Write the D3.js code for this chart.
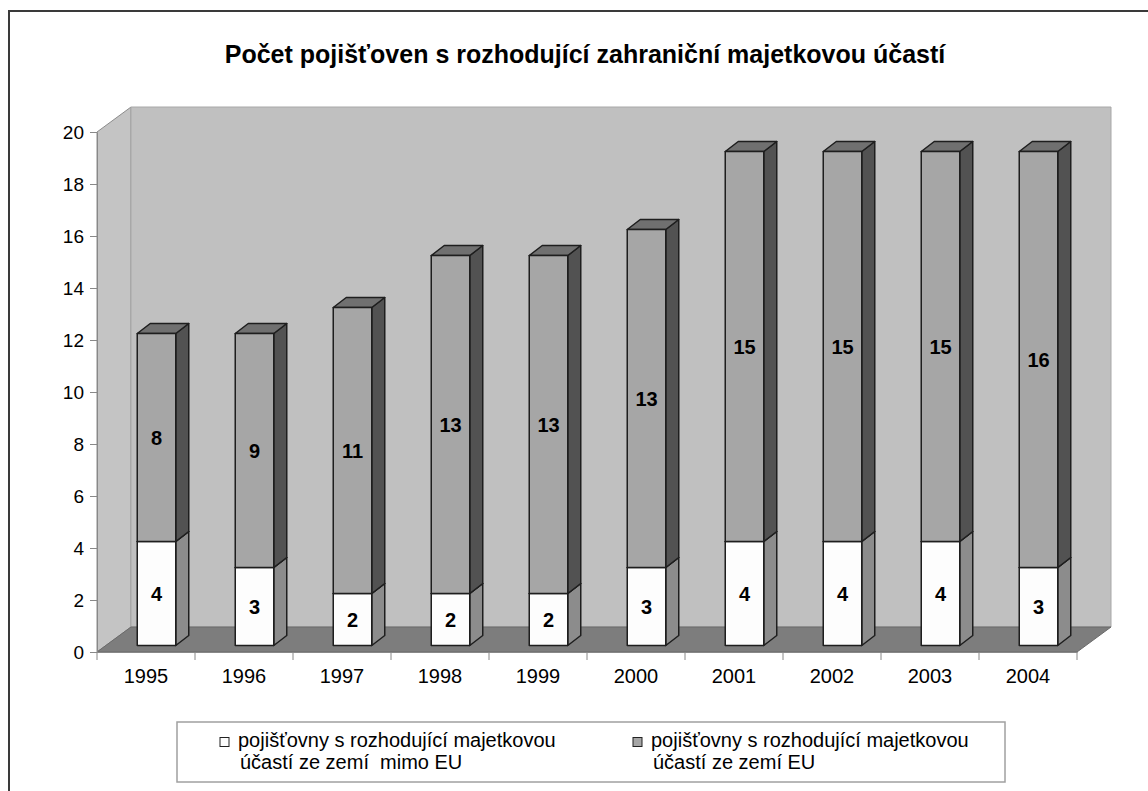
<!DOCTYPE html>
<html>
<head>
<meta charset="utf-8">
<script src="https://cdn.jsdelivr.net/npm/d3@7"></script>
<style>
  body { margin: 0; background: #fff; }
  svg { display: block; font-family: "Liberation Sans", Arial, sans-serif; }
  .title { font-size: 25px; font-weight: bold; }
  .lbl { font-size: 20px; font-weight: bold; }
  .legend text { font-size: 20px; }
</style>
</head>
<body>
<script>
const years = ['1995', '1996', '1997', '1998', '1999', '2000', '2001', '2002', '2003', '2004'];
const mimoEU = [4, 3, 2, 2, 2, 3, 4, 4, 4, 3];
const zEU = [8, 9, 11, 13, 13, 13, 15, 15, 15, 16];
const yTicks = [0, 2, 4, 6, 8, 10, 12, 14, 16, 18, 20];
const seriesNames = [
    ['pojišťovny s rozhodující majetkovou', 'účastí ze zemí  mimo EU'],
    ['pojišťovny s rozhodující majetkovou', 'účastí ze zemí EU']
];

const width = 1148;
const height = 791;
const plot = {left: 97, right: 1077, top: 132, bottom: 652};
const depth = {x: 34, y: -25};          // 3D wall depth
const barOff = {x: 10.5, y: -6.5};      // bar front offset into the floor
const barDepth = {x: 13, y: -10};       // bar thickness
const colors = [
    {front: '#fdfdfd', side: '#8c8c8c', top: '#d0d0d0'},
    {front: '#a6a6a6', side: '#525252', top: '#707070'}
];

const svg = d3.select('body').append('svg')
    .attr('width', width)
    .attr('height', height);

// outer frame (runs off the picture on the right and bottom)
svg.append('rect')
    .attr('x', 9).attr('y', 11)
    .attr('width', 1150).attr('height', 800)
    .attr('fill', '#fff')
    .attr('stroke', '#3a3a3a')
    .attr('stroke-width', 2);

svg.append('text')
    .attr('class', 'title')
    .attr('x', 585)
    .attr('y', 63)
    .attr('text-anchor', 'middle')
    .text('Počet pojišťoven s rozhodující zahraniční majetkovou účastí');

const x = d3.scaleBand()
    .domain(years)
    .range([plot.left, plot.right]);

const y = d3.scaleLinear()
    .domain([0, 20])
    .range([plot.bottom, plot.top]);

const pts = a => a.map(p => p.join(',')).join(' ');

// side wall, back wall, floor
svg.append('polygon')
    .attr('points', pts([[plot.left, plot.bottom], [plot.left, plot.top],
        [plot.left + depth.x, plot.top + depth.y], [plot.left + depth.x, plot.bottom + depth.y]]))
    .attr('fill', '#c4c4c4')
    .attr('stroke', '#8c8c8c');

svg.append('polygon')
    .attr('points', pts([[plot.left + depth.x, plot.top + depth.y], [plot.right + depth.x, plot.top + depth.y],
        [plot.right + depth.x, plot.bottom + depth.y], [plot.left + depth.x, plot.bottom + depth.y]]))
    .attr('fill', '#c0c0c0')
    .attr('stroke', '#a8a8a8');

svg.append('polygon')
    .attr('points', pts([[plot.left, plot.bottom], [plot.right, plot.bottom],
        [plot.right + depth.x, plot.bottom + depth.y], [plot.left + depth.x, plot.bottom + depth.y]]))
    .attr('fill', '#7d7d7d')
    .attr('stroke', '#6a6a6a');

// y axis
const yAxis = svg.append('g')
    .attr('transform', `translate(${plot.left},0)`)
    .call(d3.axisLeft(y).tickValues(yTicks).tickSize(7).tickPadding(6).tickSizeOuter(0));
yAxis.selectAll('line, path').attr('stroke', '#888');
yAxis.selectAll('text')
    .attr('font-size', 19)
    .attr('font-family', '"Liberation Sans", Arial, sans-serif')
    .attr('fill', '#000');

// x axis: line, ticks between categories, labels under centres
const xAxis = svg.append('g')
    .attr('transform', `translate(0,${plot.bottom})`)
    .call(d3.axisBottom(x).tickSize(0).tickPadding(17));
xAxis.select('path').attr('stroke', '#888');
xAxis.selectAll('text')
    .attr('font-size', 20)
    .attr('font-family', '"Liberation Sans", Arial, sans-serif')
    .attr('fill', '#000');
xAxis.selectAll('.sep')
    .data(d3.range(years.length + 1))
    .enter()
    .append('line')
    .attr('class', 'sep')
    .attr('x1', i => plot.left + i * x.step())
    .attr('x2', i => plot.left + i * x.step())
    .attr('y1', 0)
    .attr('y2', 8)
    .attr('stroke', '#888');

// stacked 3D bars
const table = years.map((yr, i) => ({year: yr, mimo: mimoEU[i], eu: zEU[i]}));
const stacked = d3.stack().keys(['mimo', 'eu'])(table);
const bw = x.step() * 0.393;

const bars = svg.append('g');
years.forEach((yr, i) => {
    const bx = x(yr) + x.bandwidth() / 2 - bw / 2 + barOff.x;
    stacked.forEach((s, k) => {
        const d = s[i];
        const top = y(d[1]) + barOff.y;
        const bot = y(d[0]) + barOff.y;
        const c = colors[k];
        const g = bars.append('g')
            .attr('stroke', '#1e1e1e')
            .attr('stroke-width', 1.5)
            .attr('stroke-linejoin', 'round');
        g.append('polygon')
            .attr('points', pts([[bx + bw, top], [bx + bw + barDepth.x, top + barDepth.y],
                [bx + bw + barDepth.x, bot + barDepth.y], [bx + bw, bot]]))
            .attr('fill', c.side);
        g.append('polygon')
            .attr('points', pts([[bx, top], [bx + bw, top],
                [bx + bw + barDepth.x, top + barDepth.y], [bx + barDepth.x, top + barDepth.y]]))
            .attr('fill', c.top);
        g.append('rect')
            .attr('x', bx).attr('y', top)
            .attr('width', bw).attr('height', bot - top)
            .attr('fill', c.front);
        bars.append('text')
            .attr('class', 'lbl')
            .attr('x', bx + bw / 2)
            .attr('y', (top + bot) / 2 + 7)
            .attr('text-anchor', 'middle')
            .text(d[1] - d[0]);
    });
});

// legend
const legend = svg.append('g').attr('class', 'legend');
legend.append('rect')
    .attr('x', 177).attr('y', 722)
    .attr('width', 828).attr('height', 60)
    .attr('fill', '#fff')
    .attr('stroke', '#a0a0a0')
    .attr('stroke-width', 1.5);

const legX = [220, 633];
seriesNames.forEach((lines, k) => {
    legend.append('rect')
        .attr('x', legX[k]).attr('y', 737.5)
        .attr('width', 9).attr('height', 9)
        .attr('fill', colors[k].front)
        .attr('stroke', '#222');
    lines.forEach((t, j) => {
        legend.append('text')
            .attr('x', legX[k] + 18 + (j ? 2 : 0))
            .attr('y', 747 + j * 22)
            .attr('xml:space', 'preserve')
            .style('white-space', 'pre')
            .text(t);
    });
});
</script>
</body>
</html>
